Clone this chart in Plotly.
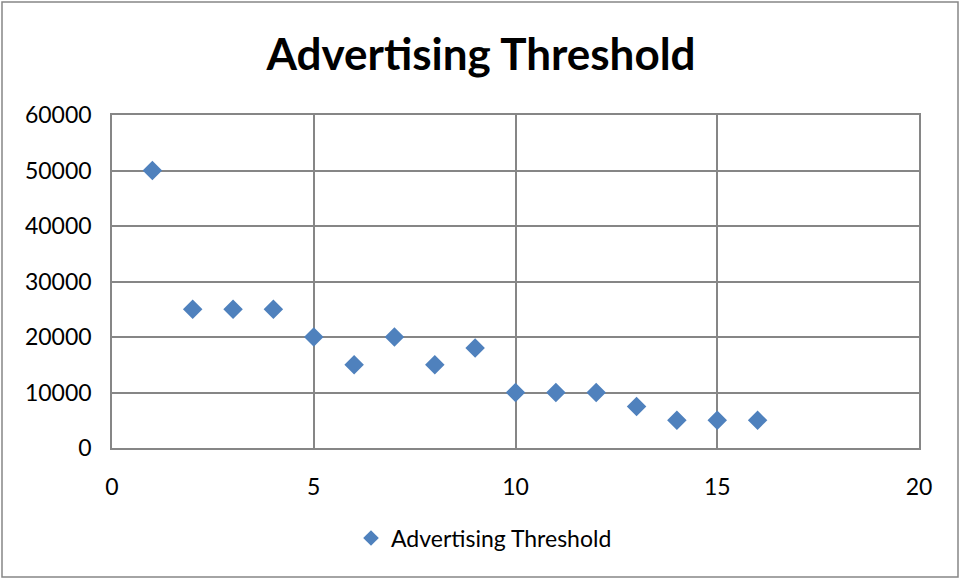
import plotly.graph_objects as go

x_vals = list(range(1, 17))
y_vals = [50000, 25000, 25000, 25000, 20000, 15000, 20000, 15000, 18000,
          10000, 10000, 10000, 7500, 5000, 5000, 5000]
series_name = "Advertising Threshold"
title_text = "Advertising Threshold"

W, H = 960, 579
L, R, T, B = 112, 41, 115, 131
pw = W - L - R
ph = H - T - B

def px_x(p):
    return (p - L) / pw

def px_y(p):
    return 1 - (p - T) / ph

fig = go.Figure()
fig.add_trace(go.Scatter(
    x=x_vals, y=y_vals, mode="markers", name=series_name,
    marker=dict(symbol="diamond", size=15, color="#4F81BD",
                line=dict(width=0)),
))

font_family = "Lato, Carlito, Calibri, 'Open Sans', sans-serif"
grid = "#868686"

fig.update_layout(
    width=W, height=H,
    margin=dict(l=L, r=R, t=T, b=B),
    paper_bgcolor="white", plot_bgcolor="white",
    font=dict(family=font_family, color="black", size=23),
    title=dict(text="<b>" + title_text + "</b>", xref="container", x=481 / W,
               xanchor="center", yref="container", y=1 - 55 / H, yanchor="middle",
               font=dict(size=44, family=font_family, color="black")),
    showlegend=True,
    legend=dict(x=px_x(484), xanchor="center", y=px_y(538), yanchor="middle",
                orientation="h", font=dict(size=23), bgcolor="rgba(0,0,0,0)",
                itemsizing="constant"),
    xaxis=dict(range=[0, 20], dtick=5, showgrid=True, gridcolor=grid, gridwidth=1.5,
               zeroline=False, showline=True, linecolor=grid, linewidth=1.5, mirror=True,
               ticks="", ticklabelstandoff=18, tickfont=dict(size=23)),
    yaxis=dict(range=[0, 60000], dtick=10000, tickformat="d", showgrid=True,
               gridcolor=grid, gridwidth=1.5,
               zeroline=False, showline=True, linecolor=grid, linewidth=1.5, mirror=True,
               ticks="", ticklabelstandoff=14, tickfont=dict(size=23)),
    shapes=[dict(type="rect", xref="paper", yref="paper",
                 x0=px_x(2), x1=px_x(958), y0=px_y(577), y1=px_y(2),
                 line=dict(color=grid, width=1.5), fillcolor="rgba(0,0,0,0)",
                 layer="below")],
)

fig.write_html("out.html", config={"displayModeBar": False},
               post_script="document.body.style.margin='0';document.body.style.overflow='hidden';")
